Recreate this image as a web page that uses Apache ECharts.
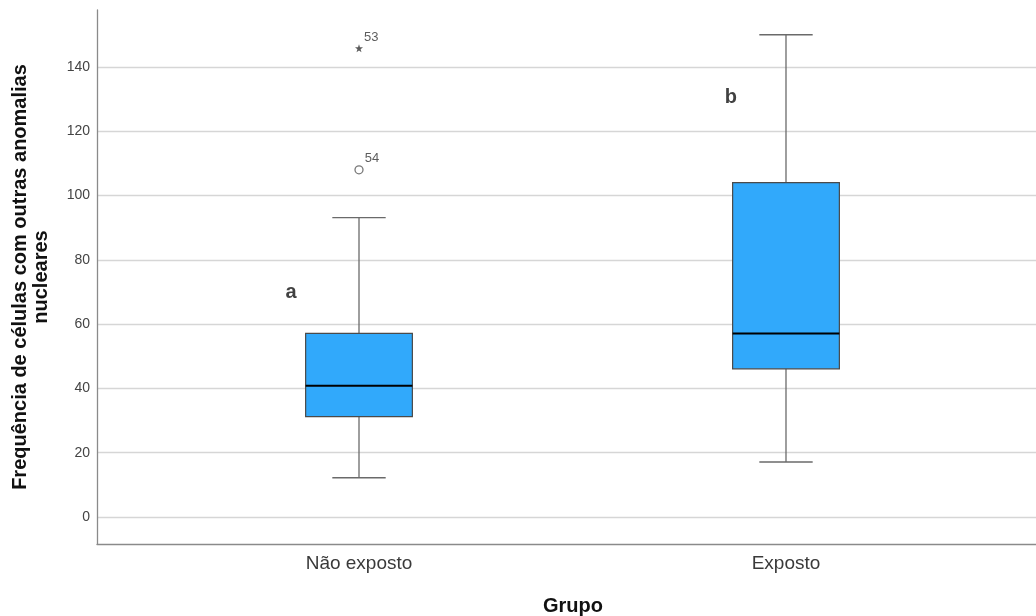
<!DOCTYPE html>
<html>
<head>
<meta charset="utf-8">
<script src="https://cdn.jsdelivr.net/npm/echarts@6/dist/echarts.min.js"></script>
<style>
  html, body { margin: 0; padding: 0; background: #fff; }
  #chart { width: 1036px; height: 616px; }
</style>
</head>
<body>
<div id="chart"></div>
<script>
// Groups on the horizontal axis
const categories = ['Não exposto', 'Exposto'];
// Five-number summaries per group: [min, Q1, median, Q3, max]
const boxStats = [
  [12.2, 31.2, 40.8, 57.1, 93.1],
  [17.1, 46.1, 57.1, 104.0, 150.0]
];
// Outliers: [group index, value, case id]
const mildOutliers = [[0, 108.0, '54']];
const extremeOutliers = [[0, 145.8, '53']];
// Significance letters: [x position in group units, value, letter]
const groupLetters = [[-0.159, 69.7, 'a'], [0.871, 130.6, 'b']];
// Y-axis tick values
const yTicks = [0, 20, 40, 60, 80, 100, 120, 140];

const FONT = '"Liberation Sans", Arial, sans-serif';
const STAR = 'path://M0,-10 L2.35,-3.24 L9.51,-3.09 L3.8,1.24 L5.88,8.09 L0,4 L-5.88,8.09 L-3.8,1.24 L-9.51,-3.09 L-2.35,-3.24 Z';

const chart = echarts.init(document.getElementById('chart'), null, { renderer: 'canvas' });

function renderBox(params, api) {
  const i = api.value(0);
  const lo = api.value(1), q1 = api.value(2), med = api.value(3), q3 = api.value(4), hi = api.value(5);
  const band = api.size([1, 0])[0];
  const half = band * 0.125;
  const cap = half / 2;
  const pLo = api.coord([i, lo]), pQ1 = api.coord([i, q1]), pMed = api.coord([i, med]);
  const pQ3 = api.coord([i, q3]), pHi = api.coord([i, hi]);
  const cx = pLo[0];
  const whisker = { stroke: '#6a6a6a', lineWidth: 1.3 };
  return {
    type: 'group',
    children: [
      { type: 'line', shape: { x1: cx, y1: pHi[1], x2: cx, y2: pQ3[1] }, style: whisker },
      { type: 'line', shape: { x1: cx, y1: pQ1[1], x2: cx, y2: pLo[1] }, style: whisker },
      { type: 'line', shape: { x1: cx - cap, y1: pHi[1], x2: cx + cap, y2: pHi[1] }, style: whisker },
      { type: 'line', shape: { x1: cx - cap, y1: pLo[1], x2: cx + cap, y2: pLo[1] }, style: whisker },
      { type: 'rect', shape: { x: cx - half, y: pQ3[1], width: half * 2, height: pQ1[1] - pQ3[1] },
        style: { fill: '#31a9fb', stroke: '#4a4a4a', lineWidth: 1.2 } },
      { type: 'line', shape: { x1: cx - half, y1: pMed[1], x2: cx + half, y2: pMed[1] },
        style: { stroke: '#000', lineWidth: 2 } }
    ]
  };
}

const option = {
  backgroundColor: '#fff',
  animation: false,
  grid: { left: 97, top: 10, right: 0, bottom: 72, containLabel: false, outerBoundsMode: 'none' },
  xAxis: {
    type: 'value',
    min: -0.6136,
    max: 1.5855,
    name: 'Grupo',
    nameLocation: 'middle',
    nameGap: 52,
    nameTextStyle: { fontFamily: FONT, fontSize: 20, fontWeight: 'bold', color: '#111', padding: [0, 0, 0, 13] },
    axisLine: { show: true, onZero: false, lineStyle: { color: '#8a8a8a', width: 1.3 } },
    axisTick: { show: false },
    splitLine: { show: false },
    axisLabel: {
      customValues: [0, 1],
      formatter: function (v) { return categories[Math.round(v)]; },
      fontFamily: FONT, fontSize: 19, color: '#3a3a3a', margin: 10
    }
  },
  yAxis: {
    type: 'value',
    min: -8.4,
    max: 157.7,
    name: 'Frequência de células com outras anomalias\nnucleares',
    nameLocation: 'middle',
    nameGap: 45,
    nameTextStyle: { fontFamily: FONT, fontSize: 20, fontWeight: 'bold', color: '#111', lineHeight: 21, align: 'center' },
    axisLine: { show: true, onZero: false, lineStyle: { color: '#8a8a8a', width: 1.3 } },
    axisTick: { show: false, customValues: yTicks },
    splitLine: { show: true, lineStyle: { color: '#d6d6d6', width: 1.3 } },
    axisLabel: { customValues: yTicks, fontFamily: FONT, fontSize: 14, color: '#444', margin: 7 }
  },
  series: [
    {
      type: 'custom',
      renderItem: renderBox,
      encode: { x: 0, y: [1, 2, 3, 4, 5] },
      data: boxStats.map(function (s, i) { return [i].concat(s); }),
      z: 3
    },
    {
      type: 'scatter',
      data: mildOutliers.map(function (d) { return { value: [d[0], d[1]], name: d[2] }; }),
      symbol: 'circle',
      symbolSize: 8,
      itemStyle: { color: '#fff', borderColor: '#555', borderWidth: 1.3 },
      label: {
        show: true, position: 'right', distance: 1, offset: [0, -11],
        formatter: function (p) { return p.name; },
        fontFamily: FONT, fontSize: 13, color: '#333'
      },
      z: 4
    },
    {
      type: 'scatter',
      data: extremeOutliers.map(function (d) { return { value: [d[0], d[1]], name: d[2] }; }),
      symbol: STAR,
      symbolSize: 8,
      itemStyle: { color: '#333' },
      label: {
        show: true, position: 'right', distance: 1, offset: [0, -11],
        formatter: function (p) { return p.name; },
        fontFamily: FONT, fontSize: 13, color: '#333'
      },
      z: 4
    },
    {
      type: 'scatter',
      data: groupLetters.map(function (d) { return { value: [d[0], d[1]], name: d[2] }; }),
      symbol: 'circle',
      symbolSize: 1,
      itemStyle: { color: 'rgba(0,0,0,0)' },
      label: {
        show: true, position: 'inside',
        formatter: function (p) { return p.name; },
        fontFamily: FONT, fontSize: 20, fontWeight: 'bold', color: '#111'
      },
      z: 4
    }
  ]
};

chart.setOption(option);
</script>
</body>
</html>
